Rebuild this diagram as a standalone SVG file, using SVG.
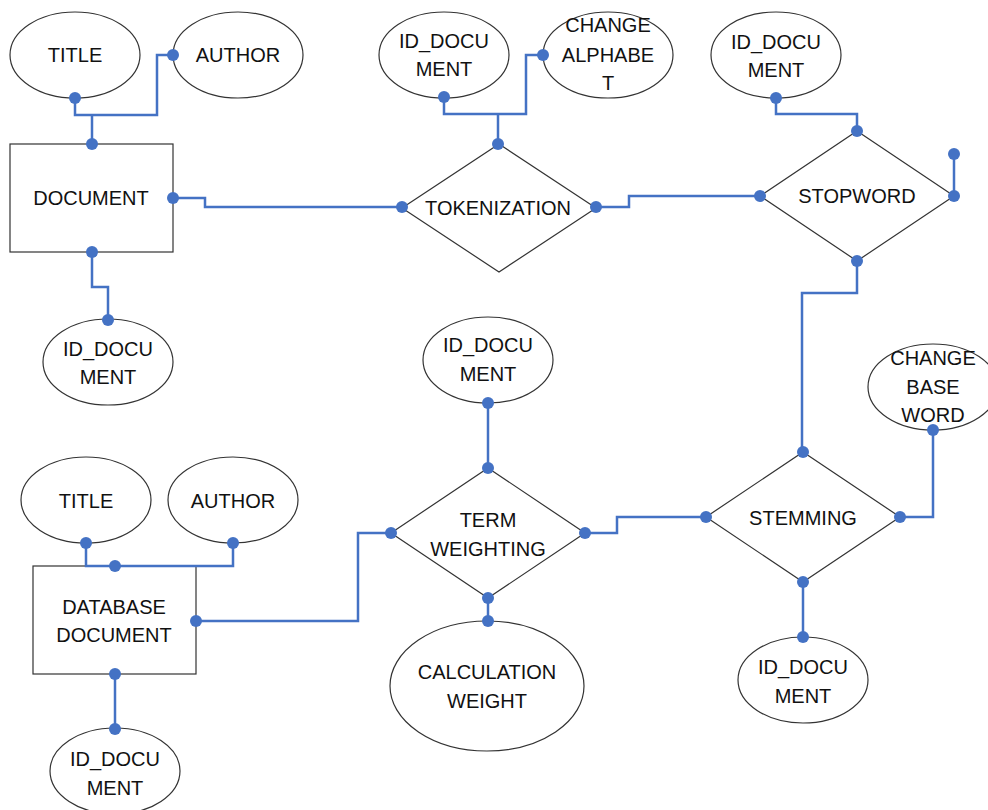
<svg xmlns="http://www.w3.org/2000/svg" width="988" height="810" viewBox="0 0 988 810">
<style>
.shape{fill:#fff;stroke:#333;stroke-width:1.2}
.lbl{font-family:"Liberation Sans",Arial,sans-serif;font-size:20px;fill:#111;text-anchor:middle;dominant-baseline:central}
.conn{fill:none;stroke:#4472C4;stroke-width:2.5}
.dot{fill:#4472C4}
</style>
<rect width="988" height="810" fill="#fff"/>
<g id="title1"><ellipse class="shape" cx="75" cy="55" rx="65" ry="43"/><text class="lbl" x="75" y="55">TITLE</text></g>
<g id="author1"><ellipse class="shape" cx="238" cy="55" rx="65" ry="43"/><text class="lbl" x="238" y="55">AUTHOR</text></g>
<g id="document"><rect class="shape" x="10" y="144" width="163" height="108"/><text class="lbl" x="91" y="198">DOCUMENT</text></g>
<g id="iddoc1"><ellipse class="shape" cx="108" cy="362" rx="65" ry="43"/><text class="lbl" x="108" y="349">ID_DOCU</text><text class="lbl" x="108" y="377">MENT</text></g>
<g id="iddoc2"><ellipse class="shape" cx="444" cy="55" rx="65" ry="43"/><text class="lbl" x="444" y="41">ID_DOCU</text><text class="lbl" x="444" y="69">MENT</text></g>
<g id="changealphabet"><ellipse class="shape" cx="608" cy="55" rx="65" ry="43"/><text class="lbl" x="608" y="25">CHANGE</text><text class="lbl" x="608" y="55">ALPHABE</text><text class="lbl" x="608" y="83">T</text></g>
<g id="tokenization"><polygon class="shape" points="499,144 596,208 499,272 402,208"/><text class="lbl" x="498" y="208">TOKENIZATION</text></g>
<g id="iddoc3"><ellipse class="shape" cx="776" cy="55" rx="65" ry="43"/><text class="lbl" x="776" y="42">ID_DOCU</text><text class="lbl" x="776" y="70">MENT</text></g>
<g id="stopword"><polygon class="shape" points="857,131 954,196 857,261 760,196"/><text class="lbl" x="857" y="196">STOPWORD</text></g>
<g id="changebaseword"><ellipse class="shape" cx="933" cy="387" rx="65" ry="43"/><text class="lbl" x="933" y="358">CHANGE</text><text class="lbl" x="933" y="387">BASE</text><text class="lbl" x="933" y="415">WORD</text></g>
<g id="stemming"><polygon class="shape" points="803,452 900,517 803,582 706,517"/><text class="lbl" x="803" y="518">STEMMING</text></g>
<g id="iddoc4"><ellipse class="shape" cx="803" cy="680" rx="65" ry="43"/><text class="lbl" x="803" y="667">ID_DOCU</text><text class="lbl" x="803" y="696">MENT</text></g>
<g id="iddoc5"><ellipse class="shape" cx="488" cy="360" rx="65" ry="43"/><text class="lbl" x="488" y="345">ID_DOCU</text><text class="lbl" x="488" y="374">MENT</text></g>
<g id="termweighting"><polygon class="shape" points="488,468 585,533 488,598 391,533"/><text class="lbl" x="488" y="520">TERM</text><text class="lbl" x="488" y="549">WEIGHTING</text></g>
<g id="calcweight"><ellipse class="shape" cx="487" cy="686" rx="97" ry="65"/><text class="lbl" x="487" y="672">CALCULATION</text><text class="lbl" x="487" y="701">WEIGHT</text></g>
<g id="title2"><ellipse class="shape" cx="86" cy="500" rx="65" ry="43"/><text class="lbl" x="86" y="501">TITLE</text></g>
<g id="author2"><ellipse class="shape" cx="233" cy="500" rx="65" ry="43"/><text class="lbl" x="233" y="501">AUTHOR</text></g>
<g id="dbdocument"><rect class="shape" x="33" y="566" width="163" height="108"/><text class="lbl" x="114" y="607">DATABASE</text><text class="lbl" x="114" y="635">DOCUMENT</text></g>
<g id="iddoc6"><ellipse class="shape" cx="115" cy="771" rx="65" ry="43"/><text class="lbl" x="115" y="759">ID_DOCU</text><text class="lbl" x="115" y="788">MENT</text></g>
<g id="connectors">
<polyline class="conn" points="75,98 75,115 157,115 157,55 173,55"/>
<line class="conn" x1="92" y1="115" x2="92" y2="144"/>
<polyline class="conn" points="173,198 205,198 205,207 402,207"/>
<polyline class="conn" points="92,252 92,287 108,287 108,320"/>
<polyline class="conn" points="444,97 444,114 526,114 526,55 543,55"/>
<line class="conn" x1="498" y1="114" x2="498" y2="144"/>
<polyline class="conn" points="596,207 629,207 629,196 760,196"/>
<polyline class="conn" points="776,98 776,114 857,114 857,131"/>
<line class="conn" x1="954" y1="154" x2="954" y2="196"/>
<polyline class="conn" points="857,261 857,293 802,293 802,452"/>
<polyline class="conn" points="933,430 933,517 900,517"/>
<line class="conn" x1="803" y1="582" x2="803" y2="637"/>
<polyline class="conn" points="585,533 617,533 617,517 706,517"/>
<line class="conn" x1="488" y1="403" x2="488" y2="468"/>
<line class="conn" x1="488" y1="598" x2="488" y2="621"/>
<polyline class="conn" points="86,543 86,566 233,566 233,543"/>
<polyline class="conn" points="196,621 358,621 358,533 391,533"/>
<line class="conn" x1="115" y1="674" x2="115" y2="729"/>
<g class="dot">
<circle cx="75" cy="98" r="6"/><circle cx="173" cy="55" r="6"/><circle cx="92" cy="144" r="6"/>
<circle cx="173" cy="198" r="6"/><circle cx="92" cy="252" r="6"/><circle cx="108" cy="320" r="6"/>
<circle cx="402" cy="207" r="6"/><circle cx="444" cy="97" r="6"/><circle cx="543" cy="55" r="6"/>
<circle cx="498" cy="144" r="6"/><circle cx="596" cy="207" r="6"/>
<circle cx="776" cy="98" r="6"/><circle cx="857" cy="131" r="6"/><circle cx="760" cy="196" r="6"/>
<circle cx="954" cy="154" r="6"/><circle cx="954" cy="196" r="6"/><circle cx="857" cy="261" r="6"/>
<circle cx="803" cy="452" r="6"/><circle cx="706" cy="517" r="6"/><circle cx="900" cy="517" r="6"/>
<circle cx="803" cy="582" r="6"/><circle cx="803" cy="637" r="6"/><circle cx="933" cy="430" r="6"/>
<circle cx="488" cy="403" r="6"/><circle cx="488" cy="468" r="6"/><circle cx="391" cy="533" r="6"/>
<circle cx="585" cy="533" r="6"/><circle cx="488" cy="598" r="6"/><circle cx="488" cy="621" r="6"/>
<circle cx="86" cy="543" r="6"/><circle cx="233" cy="543" r="6"/><circle cx="115" cy="566" r="6"/>
<circle cx="196" cy="621" r="6"/><circle cx="115" cy="674" r="6"/><circle cx="115" cy="729" r="6"/>
</g>
</g>
</svg>
